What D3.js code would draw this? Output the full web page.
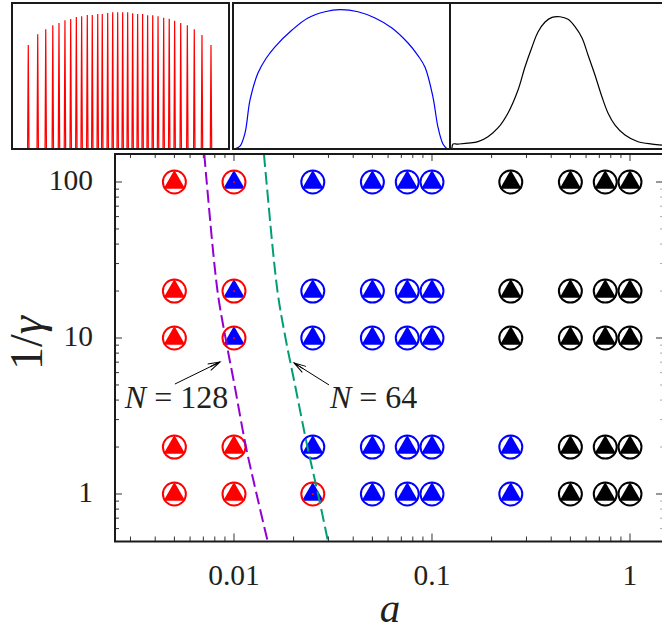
<!DOCTYPE html>
<html><head><meta charset="utf-8">
<script src="https://cdn.jsdelivr.net/npm/d3@7"></script>
<style>
body{margin:0;background:#fff}
svg{display:block}
text{font-family:"Liberation Serif","Times New Roman",Times,serif;fill:#231f20}
</style>
</head><body><svg id="c" width="662" height="632"></svg>
<script>
// ---------------- data ----------------
const aValues = [0.005, 0.01, 0.025, 0.05, 0.075, 0.1, 0.25, 0.5, 0.75, 1];
const invGammaValues = [100, 20, 10, 2, 1];
// ring colour per (row, column)
const ringClass = [
  ["red","red","blue","blue","blue","blue","black","black","black","black"],
  ["red","red","blue","blue","blue","blue","black","black","black","black"],
  ["red","red","blue","blue","blue","blue","black","black","black","black"],
  ["red","red","blue","blue","blue","blue","blue","black","black","black"],
  ["red","red","red","blue","blue","blue","blue","black","black","black"]
];
// triangle colour per (row, column)
const triClass = [
  ["red","blue","blue","blue","blue","blue","black","black","black","black"],
  ["red","blue","blue","blue","blue","blue","black","black","black","black"],
  ["red","blue","blue","blue","blue","blue","black","black","black","black"],
  ["red","red","blue","blue","blue","blue","blue","black","black","black"],
  ["red","red","blue","blue","blue","blue","blue","black","black","black"]
];
// small red centre dots
const dotA = [0.01, 0.01, 0.01, 0.025];
const dotG = [100, 20, 10, 1];

const xTickValues = [0.01, 0.1, 1];
const xTickLabels = ["0.01", "0.1", "1"];
const yTickValues = [1, 10, 100];
const yTickLabels = ["1", "10", "100"];

// boundary curves
const n128Gamma = [151, 100, 20, 10, 5, 2, 1, 0.496];
const n128A     = [0.00708, 0.00728, 0.008255, 0.009061, 0.010058, 0.011497, 0.0130, 0.0148];
const n64Gamma  = [151, 100, 20, 10, 5, 2, 1, 0.496];
const n64A      = [0.01417, 0.01459, 0.01658, 0.01820, 0.02033, 0.02350, 0.02656, 0.02984];

// annotations
const annLabels = ["128", "64"];
const annTextA = [0.00281, 0.0305];
const annTextG = [3.56, 3.56];
const annFromA = [0.00503, 0.0302];
const annFromG = [5.07, 5.0];
const annToA = [0.0085, 0.0201];
const annToG = [7.02, 6.92];

// inset 1: spikes
const spikeX = [-0.850,-0.763,-0.689,-0.624,-0.567,-0.512,-0.459,-0.407,-0.358,-0.306,-0.260,-0.210,-0.168,-0.118,-0.072,-0.026,
                 0.020, 0.066, 0.112, 0.158, 0.204, 0.250, 0.297, 0.346, 0.398, 0.449, 0.499, 0.555, 0.616, 0.680, 0.751, 0.834];
const spikeH = [0.712,0.786,0.820,0.847,0.863,0.882,0.890,0.904,0.909,0.918,0.918,0.925,0.925,0.932,0.936,0.936,
                0.936,0.936,0.929,0.925,0.925,0.916,0.916,0.909,0.899,0.892,0.879,0.863,0.847,0.820,0.781,0.712];
// inset 2: blue curve
const blueX = [-0.981,-0.935,-0.889,-0.843,-0.770,-0.696,-0.613,-0.456,-0.309,-0.152,-0.014,0.152,0.309,0.465,0.613,0.705,0.770,0.843,0.889,0.935,0.972];
const blueY = [0.002,0.020,0.110,0.336,0.520,0.620,0.700,0.815,0.897,0.940,0.954,0.940,0.897,0.829,0.726,0.640,0.560,0.356,0.150,0.034,0.002];
// inset 3: black curve
const blackX = [-0.982,-0.972,-0.926,-0.742,-0.650,-0.558,-0.465,-0.373,-0.309,-0.244,-0.189,-0.124,-0.060,0.014,0.088,0.152,0.217,0.272,0.336,0.401,0.456,0.521,0.613,0.733,0.862,0.954];
const blackY = [0.007,0.034,0.034,0.050,0.084,0.144,0.247,0.404,0.562,0.699,0.801,0.870,0.902,0.906,0.888,0.838,0.760,0.644,0.507,0.356,0.247,0.164,0.096,0.050,0.034,0.027];

// ---------------- drawing ----------------
const colors = {red:"#ff0000", blue:"#0000ff", black:"#000000"};
const svg = d3.select("#c");
const M = {left:115, right:663, top:154, bottom:541.5};
const x = d3.scaleLog().domain([0.002506, 1.468]).range([M.left, M.right]);
const y = d3.scaleLog().domain([0.496, 151.2]).range([M.bottom, M.top]);

const defs = svg.append("defs");
defs.append("clipPath").attr("id","plotclip").append("rect")
  .attr("x",M.left).attr("y",M.top).attr("width",M.right-M.left).attr("height",M.bottom-M.top);
defs.append("marker").attr("id","arr").attr("markerUnits","userSpaceOnUse")
  .attr("markerWidth",14).attr("markerHeight",10).attr("refX",12).attr("refY",5)
  .attr("orient","auto").attr("overflow","visible")
  .append("path").attr("d","M0,1.5 L12,5 L0,8.5 M1,5 L12,5")
  .attr("fill","none").attr("stroke","#000").attr("stroke-width",1);

// ---- insets ----
const panels = [{x0:12, x1:229}, {x0:233, x1:450}, {x0:450, x1:667}];
const insetTop = 3, insetBottom = 149;
panels.forEach((p,i) => {
  const ix = d3.scaleLinear().domain([-1,1]).range([p.x0, p.x1]);
  const iy = d3.scaleLinear().domain([0,1]).range([insetBottom, insetTop]);
  const g = svg.append("g");
  const cid = "ic"+i;
  defs.append("clipPath").attr("id",cid).append("rect")
    .attr("x",p.x0).attr("y",insetTop).attr("width",p.x1-p.x0).attr("height",insetBottom-insetTop);
  if (i === 0) {
    const w = 0.0065;
    const pts = [];
    spikeX.forEach((s,k) => { pts.push([s-w,0],[s,spikeH[k]],[s+w,0]); });
    g.append("path").attr("clip-path",`url(#${cid})`)
      .attr("d", d3.line().x(d=>ix(d[0])).y(d=>iy(d[1]))(pts))
      .attr("fill","none").attr("stroke","#ff0000").attr("stroke-width",1.2);
  } else if (i === 1) {
    g.append("path")
      .attr("d", d3.line().curve(d3.curveCatmullRom).x(d=>ix(d[0])).y(d=>iy(d[1]))(blueX.map((v,k)=>[v,blueY[k]])))
      .attr("fill","none").attr("stroke","#0000ff").attr("stroke-width",1.2);
  } else {
    g.append("path").attr("clip-path",`url(#${cid})`)
      .attr("d", d3.line().curve(d3.curveCatmullRom).x(d=>ix(d[0])).y(d=>iy(d[1]))(blackX.map((v,k)=>[v,blackY[k]])))
      .attr("fill","none").attr("stroke","#000").attr("stroke-width",1.2);
  }
  g.append("rect").attr("x",p.x0).attr("y",insetTop).attr("width",p.x1-p.x0).attr("height",insetBottom-insetTop)
    .attr("fill","none").attr("stroke","#1a1a1a").attr("stroke-width",2);
});

// ---- main plot frame & ticks ----
const isMajor = t => Math.abs(Math.log10(t) - Math.round(Math.log10(t))) < 1e-9;
const tg = svg.append("g").attr("stroke","#333").attr("stroke-width",1);
x.ticks().filter(t => x(t) > M.left+1 && x(t) < M.right-1).forEach(t => {
  const L = isMajor(t) ? 8 : 5;
  tg.append("line").attr("x1",x(t)).attr("x2",x(t)).attr("y1",M.bottom).attr("y2",M.bottom-L);
  tg.append("line").attr("x1",x(t)).attr("x2",x(t)).attr("y1",M.top).attr("y2",M.top+(isMajor(t)?7:4));
});
y.ticks().filter(t => y(t) > M.top+1 && y(t) < M.bottom-1).forEach(t => {
  const maj = isMajor(t);
  tg.append("line").attr("y1",y(t)).attr("y2",y(t)).attr("x1",M.left).attr("x2",M.left+(maj?7:4));
  tg.append("line").attr("y1",y(t)).attr("y2",y(t)).attr("x1",M.right).attr("x2",M.right-(maj?7:3))
    .attr("stroke", maj ? "#333" : "#aaa");
});

// ---- markers ----
const pts = [];
invGammaValues.forEach((gv, r) => aValues.forEach((av, c) => pts.push({a:av, g:gv, ring:ringClass[r][c], tri:triClass[r][c]})));
const mg = svg.append("g");
const tri = d3.symbol(d3.symbolTriangle, 203);
mg.selectAll("path.tri").data(pts).join("path").attr("class","tri")
  .attr("transform", d => `translate(${x(d.a)},${y(d.g)+0.4})`)
  .attr("d", tri).attr("fill", d => colors[d.tri]);
mg.selectAll("circle.ring").data(pts).join("circle").attr("class","ring")
  .attr("cx", d => x(d.a)).attr("cy", d => y(d.g)).attr("r", 11.5)
  .attr("fill","none").attr("stroke", d => colors[d.ring]).attr("stroke-width",2);
mg.selectAll("circle.dot").data(dotA.map((a,k)=>({a, g:dotG[k]}))).join("circle").attr("class","dot")
  .attr("cx", d => x(d.a)).attr("cy", d => y(d.g)).attr("r", 1.1).attr("fill","#ff0000");

// ---- boundary curves ----
const cl = svg.append("g").attr("clip-path","url(#plotclip)");
const lineGen = d3.line().curve(d3.curveCatmullRom).x(d=>x(d[0])).y(d=>y(d[1]));
cl.append("path").attr("d", lineGen(n128A.map((a,k)=>[a,n128Gamma[k]])))
  .attr("fill","none").attr("stroke","#9400d3").attr("stroke-width",2).attr("stroke-dasharray","13,5");
cl.append("path").attr("d", lineGen(n64A.map((a,k)=>[a,n64Gamma[k]])))
  .attr("fill","none").attr("stroke","#009e73").attr("stroke-width",2).attr("stroke-dasharray","13,5");

// ---- annotations ----
annLabels.forEach((lab,k) => {
  svg.append("line").attr("x1",x(annFromA[k])).attr("y1",y(annFromG[k]))
    .attr("x2",x(annToA[k])).attr("y2",y(annToG[k]))
    .attr("stroke","#000").attr("stroke-width",1).attr("marker-end","url(#arr)");
  const t = svg.append("text").attr("x",x(annTextA[k])).attr("y",y(annTextG[k])).attr("font-size",32);
  t.append("tspan").attr("font-style","italic").text("N");
  t.append("tspan").text(" = " + lab);
});

// frame
svg.append("rect").attr("x",M.left).attr("y",M.top).attr("width",M.right-M.left).attr("height",M.bottom-M.top)
  .attr("fill","none").attr("stroke","#1a1a1a").attr("stroke-width",2);

// tick labels
xTickValues.forEach((v,k) => svg.append("text").attr("x",x(v)).attr("y",585).attr("text-anchor","middle")
  .attr("font-size",29.5).text(xTickLabels[k]));
yTickValues.forEach((v,k) => svg.append("text").attr("x",93).attr("y",y(v)+7.8).attr("text-anchor","end")
  .attr("font-size",29.5).text(yTickLabels[k]));

// axis titles
svg.append("text").attr("x",390).attr("y",622).attr("text-anchor","middle")
  .attr("font-size",41).attr("font-style","italic").text("a");
const yl = svg.append("text").attr("transform","translate(42,343) rotate(-90)").attr("text-anchor","middle").attr("font-size",46);
yl.append("tspan").text("1/");
yl.append("tspan").attr("font-style","italic").text("γ");
</script>
</body></html>
